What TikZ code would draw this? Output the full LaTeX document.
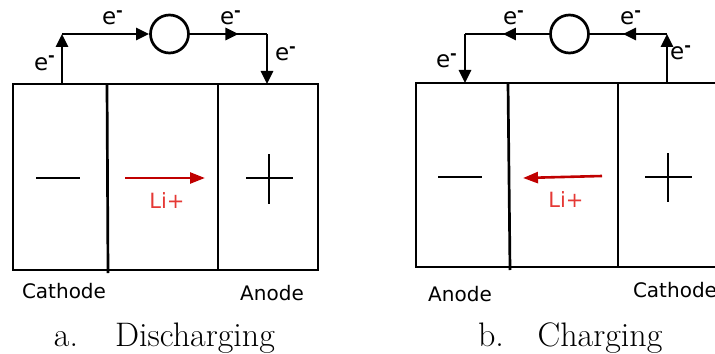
\documentclass[tikz,border=0pt]{standalone}
\usepackage{fontspec}
\usepackage{tikz}
\usetikzlibrary{arrows.meta, positioning, calc, decorations.markings}
\newfontfamily\labelfont{DejaVu Sans}
\definecolor{ionArrow}{HTML}{C00000}
\definecolor{ionText}{HTML}{E53935}
\definecolor{cellInk}{HTML}{000000}

\begin{document}
\begin{tikzpicture}[
    x=0.5pt, y=-0.5pt,
    cellline/.style={
        draw=cellInk,
        line width=1.35pt
    },
    signline/.style={
        draw=cellInk,
        line width=1.3pt
    },
    battery/.style={
        circle,
        draw=cellInk,
        line width=1.35pt,
        minimum size=19pt,
        inner sep=0pt
    },
    wire/.style={
        draw=cellInk,
        line width=1.35pt
    },
    wirearrow/.style={
        -{Triangle[length=6.5pt, width=6pt]},
        draw=cellInk,
        line width=1.35pt
    },
    midarrow/.style={
        postaction={decorate},
        decoration={markings,
            mark=at position #1 with {\arrow{Triangle[length=6.5pt, width=6pt]}}}
    },
    ionarrow/.style={
        -{Triangle[length=7.5pt, width=5.5pt]},
        draw=ionArrow,
        line width=1.3pt
    },
    elabel/.style={
        font=\labelfont\fontsize{11.5}{13}\selectfont,
        inner sep=0pt,
        anchor=base
    },
    ionlabel/.style={
        font=\labelfont\fontsize{10.5}{12}\selectfont,
        text=ionText,
        inner sep=0pt
    },
    electrode/.style={
        font=\labelfont\fontsize{10}{12}\selectfont,
        inner sep=0pt,
        anchor=base
    },
    caption/.style={
        font=\fontsize{17}{20}\selectfont,
        inner sep=0pt,
        anchor=base
    }
]
\useasboundingbox (0,0) rectangle (715,353);

% a. Discharging cell
\draw[cellline] (13,84) rectangle (318,270);
\draw[cellline] (107,84) -- (108,273);
\draw[cellline] (218,84) -- (218,270);
\draw[signline] (36,178) -- (80,178);
\draw[signline] (246,178) -- (293,178);
\draw[signline] (269,154) -- (269,204);

\coordinate (aNeg) at (62,84);
\coordinate (aPos) at (267,84);
\coordinate (aTL) at (62,34);
\coordinate (aTR) at (267,34);
\node[battery] (bat1) at (169.5,34) {};

\draw[wirearrow] (aNeg) -- (aTL);
\draw[wirearrow] (aTL) -- (bat1.west);
\draw[wire, midarrow=0.63] (bat1.east) -- (aTR);
\draw[wirearrow] (aTR) -- (aPos);

\node[elabel] (ea1) at (45,70) {e\textsuperscript{\textbf{-}}};
\node[elabel] (ea2) at (113,25) {e\textsuperscript{\textbf{-}}};
\node[elabel] (ea3) at (231,25) {e\textsuperscript{\textbf{-}}};
\node[elabel] (ea4) at (286,61) {e\textsuperscript{\textbf{-}}};

\coordinate (aIonFrom) at (125,178);
\coordinate (aIonTo) at (205,178);
\draw[ionarrow] (aIonFrom) -- (aIonTo);
\node[ionlabel] (aLi) at (167,201) {Li+};

\node[electrode] (aCath) at (64,298) {Cathode};
\node[electrode] (aAnod) at (272,300) {Anode};
\node[caption] (aTag) at (66,346) {a.};
\node[caption] (aCap) at (195,346) {Discharging};

% b. Charging cell
\draw[cellline] (716,83) -- (416,83) -- (416,267) -- (716,267);
\draw[cellline] (508,83) -- (510,270);
\draw[cellline] (618,83) -- (618,267);
\draw[signline] (438,177) -- (482,177);
\draw[signline] (645,177) -- (692,177);
\draw[signline] (668,153) -- (668,202);

\coordinate (bNeg) at (465,83);
\coordinate (bPos) at (667,83);
\coordinate (bTL) at (465,34);
\coordinate (bTR) at (667,34);
\node[battery] (bat2) at (569.5,34) {};

\draw[wirearrow] (bPos) -- (bTR);
\draw[wire, midarrow=0.57] (bTR) -- (bat2.east);
\draw[wire, midarrow=0.55] (bat2.west) -- (bTL);
\draw[wirearrow] (bTL) -- (bNeg);

\node[elabel] (eb1) at (447,68) {e\textsuperscript{\textbf{-}}};
\node[elabel] (eb2) at (514,25) {e\textsuperscript{\textbf{-}}};
\node[elabel] (eb3) at (631,25) {e\textsuperscript{\textbf{-}}};
\node[elabel] (eb4) at (681,60) {e\textsuperscript{\textbf{-}}};

\coordinate (bIonFrom) at (602,176);
\coordinate (bIonTo) at (523,178);
\draw[ionarrow] (bIonFrom) -- (bIonTo);
\node[ionlabel] (bLi) at (566,200) {Li+};

\node[electrode] (bAnod) at (460,301) {Anode};
\node[electrode] (bCath) at (675,297) {Cathode};
\node[caption] (bTag) at (491,346) {b.};
\node[caption] (bCap) at (600,346) {Charging};

\end{tikzpicture}
\end{document}
